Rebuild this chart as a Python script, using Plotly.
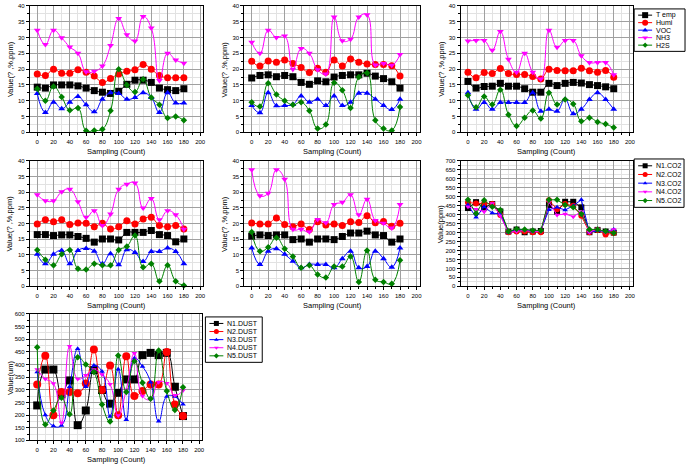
import plotly.graph_objects as go

W, H = 693, 468
samples = list(range(0, 190, 10))

# ---------------- Environmental panels (Temp, Humi, VOC, NH3, H2S) ----------------
env_names = ["T emp", "Humi", "VOC", "NH3", "H2S"]

p1_temp = [14.3, 14.0, 15.0, 15.0, 15.0, 14.7, 14.0, 13.2, 12.7, 12.3, 13.0, 15.2, 16.5, 16.5, 15.8, 14.0, 13.5, 13.2, 13.8]
p1_humi = [18.5, 18.0, 20.0, 18.7, 18.7, 19.8, 19.0, 17.8, 15.8, 17.0, 18.5, 19.3, 19.8, 21.5, 20.0, 18.0, 17.3, 17.3, 17.3]
p1_voc = [12.3, 6.3, 9.5, 7.5, 9.5, 11.3, 8.7, 6.5, 10.5, 12.5, 12.3, 10.5, 11.0, 12.5, 11.0, 6.3, 12.5, 9.3, 9.3]
p1_nh3 = [32.3, 27.8, 32.3, 29.9, 27.0, 25.0, 19.2, 19.3, 21.0, 27.5, 36.0, 30.9, 28.9, 36.7, 33.0, 16.4, 25.0, 22.9, 21.9]
p1_h2s = [13.8, 10.0, 14.5, 11.2, 7.0, 7.7, 0.5, 0.6, 1.0, 6.8, 20.0, 15.0, 12.8, 16.8, 11.0, 8.7, 4.5, 5.0, 3.8]

p2_temp = [17.2, 18.0, 18.2, 17.6, 18.0, 17.6, 15.8, 15.2, 16.3, 16.0, 17.5, 18.0, 18.2, 18.2, 18.7, 17.8, 17.0, 16.0, 14.0]
p2_humi = [22.5, 21.0, 22.6, 22.2, 22.9, 21.8, 20.5, 18.9, 20.3, 19.0, 22.9, 21.0, 23.2, 22.2, 21.6, 21.5, 21.5, 21.1, 17.8]
p2_voc = [8.5, 6.2, 12.5, 8.4, 8.5, 8.8, 11.5, 9.5, 10.5, 8.5, 11.5, 8.5, 9.5, 12.4, 12.4, 10.5, 8.5, 7.2, 10.5]
p2_nh3 = [28.5, 25.0, 32.3, 30.0, 30.5, 20.0, 26.5, 25.0, 19.8, 18.5, 36.5, 29.0, 29.5, 36.5, 37.2, 21.3, 21.8, 21.2, 24.6]
p2_h2s = [9.5, 8.2, 15.5, 12.0, 10.0, 8.7, 9.5, 6.8, 1.2, 2.5, 15.7, 13.3, 7.7, 17.5, 18.8, 3.8, 1.2, 0.6, 8.0]

p3_temp = [16.1, 14.0, 14.5, 14.6, 15.5, 14.6, 14.6, 13.8, 12.7, 12.7, 15.5, 14.8, 15.5, 15.8, 15.6, 15.1, 14.8, 14.4, 13.8]
p3_humi = [19.0, 17.3, 18.9, 18.6, 20.2, 18.6, 18.3, 18.3, 17.7, 16.9, 20.0, 19.6, 19.5, 19.5, 20.3, 19.5, 19.0, 19.6, 17.4]
p3_voc = [12.5, 7.3, 9.4, 7.3, 9.4, 9.4, 9.4, 9.4, 12.5, 6.7, 7.3, 6.7, 10.4, 5.9, 7.3, 10.4, 12.5, 10.4, 7.3]
p3_nh3 = [28.9, 29.1, 29.1, 26.0, 31.9, 23.1, 19.0, 25.0, 19.0, 16.9, 32.3, 26.9, 29.1, 29.1, 24.2, 22.1, 22.1, 22.1, 18.2]
p3_h2s = [11.7, 7.9, 11.3, 8.8, 13.5, 5.6, 2.0, 4.6, 6.9, 4.4, 12.5, 8.8, 10.4, 9.0, 3.5, 4.6, 3.3, 2.6, 1.5]

p4_temp = [16.5, 16.5, 16.2, 16.4, 16.4, 15.9, 15.3, 14.1, 15.1, 15.1, 14.8, 17.2, 17.2, 17.2, 17.8, 16.5, 16.2, 14.2, 15.1]
p4_humi = [19.9, 21.2, 20.6, 21.2, 19.7, 20.2, 20.1, 19.0, 20.1, 18.3, 19.0, 20.9, 19.9, 21.5, 22.0, 19.4, 19.0, 19.4, 18.3]
p4_voc = [10.2, 7.2, 10.2, 11.4, 7.2, 11.4, 12.1, 11.2, 7.2, 10.4, 6.9, 11.7, 10.8, 7.9, 11.1, 11.1, 12.2, 11.1, 7.2]
p4_nh3 = [29.2, 27.3, 27.3, 30.2, 31.0, 27.0, 22.0, 24.1, 19.4, 23.1, 31.0, 32.6, 33.0, 25.0, 28.0, 21.2, 24.1, 22.8, 18.2]
p4_h2s = [11.6, 8.5, 6.7, 10.2, 11.6, 5.6, 5.4, 7.2, 6.7, 6.7, 11.6, 12.7, 16.2, 6.1, 7.2, 1.6, 6.7, 1.6, 0.3]

p5_temp = [16.0, 16.4, 16.2, 16.4, 16.4, 14.9, 15.1, 14.1, 15.1, 15.1, 14.9, 15.9, 17.0, 17.0, 17.6, 16.4, 16.2, 14.1, 15.1]
p5_humi = [20.2, 19.9, 19.9, 21.8, 19.7, 19.0, 19.9, 18.1, 20.6, 19.6, 19.9, 19.4, 20.6, 20.4, 22.5, 20.3, 20.7, 19.2, 20.1]
p5_voc = [12.2, 7.0, 11.2, 12.0, 10.2, 8.0, 5.9, 7.0, 7.0, 7.0, 5.9, 8.8, 11.2, 5.9, 6.3, 11.2, 8.8, 6.1, 12.2]
p5_nh3 = [37.2, 28.9, 29.7, 37.2, 34.2, 18.2, 18.2, 17.4, 21.3, 20.3, 26.1, 26.8, 29.2, 22.8, 27.8, 21.0, 20.1, 18.6, 26.1]
p5_h2s = [17.3, 11.2, 12.5, 15.5, 12.0, 9.5, 5.9, 6.7, 3.8, 2.8, 6.3, 6.3, 9.5, 1.4, 11.4, 2.1, 1.4, 0.8, 8.3]

# ---------------- CO2 panel ----------------
co2_names = ["N1.CO2", "N2.CO2", "N3.CO2", "N4.CO2", "N5.CO2"]
n1_co2 = [437, 470, 440, 459, 418, 306, 317, 302, 306, 309, 454, 417, 472, 472, 441, 302, 315, 306, 300]
n2_co2 = [468, 463, 463, 459, 398, 302, 306, 306, 302, 302, 480, 431, 459, 450, 394, 302, 315, 289, 298]
n3_co2 = [454, 385, 444, 409, 404, 302, 317, 317, 307, 311, 428, 441, 426, 450, 483, 302, 311, 306, 317]
n4_co2 = [444, 431, 417, 463, 394, 302, 306, 311, 306, 306, 472, 398, 404, 389, 417, 302, 320, 302, 317]
n5_co2 = [483, 407, 481, 444, 426, 306, 320, 317, 311, 311, 483, 483, 454, 441, 404, 317, 317, 307, 298]

# ---------------- DUST panel ----------------
dust_names = ["N1.DUST", "N2.DUST", "N3.DUST", "N4.DUST", "N5.DUST"]
n1_dust = [238, 380, 380, 282, 337, 160, 218, 378, 299, 245, 288, 341, 341, 437, 446, 437, 446, 312, 196]
n2_dust = [321, 435, 199, 291, 291, 286, 325, 459, 299, 396, 199, 433, 275, 295, 321, 321, 449, 242, 196]
n3_dust = [370, 200, 157, 159, 312, 462, 312, 396, 372, 194, 381, 181, 425, 392, 330, 175, 273, 273, 243]
n4_dust = [380, 343, 325, 170, 472, 343, 357, 380, 360, 322, 198, 300, 445, 275, 262, 330, 326, 278, 297]
n5_dust = [468, 163, 218, 268, 203, 429, 400, 370, 242, 174, 436, 291, 413, 328, 264, 455, 295, 220, 310]

colors = ["#000000", "#ff0000", "#0000ff", "#ff00ff", "#008000"]
symbols = ["square", "circle", "triangle-up", "triangle-down", "diamond"]
env_sizes = [7, 7, 6, 6, 5]
co2_sizes = [6, 6, 5, 5, 5]
dust_sizes = [8, 8, 5, 5, 5]

FONT = "Liberation Sans, Arial, sans-serif"

# panel definitions: pixel frame (left, right, top, bottom)
panels = [
    dict(frame=(30, 204, 3, 131), yr=(0, 40), dt=5, data=[p1_temp, p1_humi, p1_voc, p1_nh3, p1_h2s], kind="env", ytitle="Value(? ,%,ppm)"),
    dict(frame=(245, 421, 3, 131), yr=(0, 40), dt=5, data=[p2_temp, p2_humi, p2_voc, p2_nh3, p2_h2s], kind="env", ytitle="Value(? ,%,ppm)"),
    dict(frame=(462, 635, 3, 131), yr=(0, 40), dt=5, data=[p3_temp, p3_humi, p3_voc, p3_nh3, p3_h2s], kind="env", ytitle="Value(? ,%,ppm)"),
    dict(frame=(30, 204, 160, 287), yr=(0, 40), dt=5, data=[p4_temp, p4_humi, p4_voc, p4_nh3, p4_h2s], kind="env", ytitle="Value(? ,%,ppm)"),
    dict(frame=(245, 421, 160, 287), yr=(0, 40), dt=5, data=[p5_temp, p5_humi, p5_voc, p5_nh3, p5_h2s], kind="env", ytitle="Value(? ,%,ppm)"),
    dict(frame=(462, 635, 160, 287), yr=(0, 700), dt=50, data=[n1_co2, n2_co2, n3_co2, n4_co2, n5_co2], kind="co2", ytitle="Value(ppm)"),
    dict(frame=(30, 203, 315, 443), yr=(100, 600), dt=50, data=[n1_dust, n2_dust, n3_dust, n4_dust, n5_dust], kind="dust", ytitle="Value(um)"),
]

# legend boxes (left, right, top, bottom)
legends = [
    dict(box=(636, 687, 6, 49), names=env_names, sizes=[6, 6, 5, 5, 4]),
    dict(box=(636, 686, 158, 207), names=co2_names, sizes=[5, 5, 4, 4, 4]),
    dict(box=(206, 263, 318, 364), names=dust_names, sizes=[5, 5, 4, 4, 4]),
]

fig = go.Figure()
annotations = []
shapes = []
layout = {}


def ax_names(i):
    xa = "x" if i == 1 else f"x{i}"
    ya = "y" if i == 1 else f"y{i}"
    xk = "xaxis" if i == 1 else f"xaxis{i}"
    yk = "yaxis" if i == 1 else f"yaxis{i}"
    return xa, ya, xk, yk


for i, p in enumerate(panels, start=1):
    xa, ya, xk, yk = ax_names(i)
    l, r, t, b = p["frame"]
    if p["kind"] == "env":
        sizes, shape = env_sizes, "spline"
    elif p["kind"] == "co2":
        sizes, shape = co2_sizes, "linear"
    else:
        sizes, shape = dust_sizes, "spline"
    for k, series in enumerate(p["data"]):
        fig.add_trace(go.Scatter(
            x=samples, y=series, mode="lines+markers",
            line=dict(color=colors[k], width=1, shape=shape, smoothing=1.3),
            marker=dict(symbol=symbols[k], size=sizes[k], color=colors[k]),
            xaxis=xa, yaxis=ya, showlegend=False, cliponaxis=False,
        ))
    layout[xk] = dict(
        domain=[l / W, r / W], anchor=ya, range=[-9, 204],
        tickmode="array", tickvals=list(range(0, 201, 20)),
        showgrid=True, gridcolor="#a0a0a0", gridwidth=1, zeroline=False,
        showline=True, linecolor="#000000", linewidth=1, mirror=True,
        ticks="outside", ticklen=3, tickcolor="#000000",
        tickfont=dict(family=FONT, size=6, color="#000000"),
        minor=dict(dtick=10, tick0=0, ticklen=2, ticks="outside", tickcolor="#000000",
                   showgrid=True, gridcolor="#e2e2e2", gridwidth=1),
    )
    y0, y1 = p["yr"]
    layout[yk] = dict(
        domain=[1 - b / H, 1 - t / H], anchor=xa, range=[y0, y1],
        tickmode="linear", tick0=y0, dtick=p["dt"],
        showgrid=True, gridcolor="#a0a0a0", gridwidth=1, zeroline=False,
        showline=True, linecolor="#000000", linewidth=1, mirror=True,
        ticks="outside", ticklen=3, tickcolor="#000000",
        tickfont=dict(family=FONT, size=6, color="#000000"),
        minor=dict(dtick=p["dt"] / 2, ticklen=2, ticks="outside", tickcolor="#000000",
                   showgrid=True, gridcolor="#e2e2e2", gridwidth=1),
    )
    annotations.append(dict(
        text="Sampling (Count)", x=(l + r) / 2 / W, y=1 - (b + 19) / H,
        xref="paper", yref="paper", xanchor="center", yanchor="middle",
        showarrow=False, font=dict(family=FONT, size=7.5, color="#000000"),
    ))
    annotations.append(dict(
        text=p["ytitle"], x=(l - 20) / W, y=1 - (t + b) / 2 / H,
        xref="paper", yref="paper", xanchor="center", yanchor="middle",
        textangle=-90, showarrow=False, font=dict(family=FONT, size=7.5, color="#000000"),
    ))

# compact legends drawn on small helper axes
for j, lg in enumerate(legends, start=len(panels) + 1):
    xa, ya, xk, yk = ax_names(j)
    l, r, t, b = lg["box"]
    wpx, hpx = r - l, b - t
    n = len(lg["names"])
    pad = 2.5
    step = (hpx - 2 * pad) / n
    layout[xk] = dict(domain=[l / W, r / W], anchor=ya, range=[0, wpx], visible=False, fixedrange=True)
    layout[yk] = dict(domain=[1 - b / H, 1 - t / H], anchor=xa, range=[hpx, 0], visible=False, fixedrange=True)
    shapes.append(dict(type="rect", xref=f"{xa} domain", yref=f"{ya} domain", x0=0, x1=1, y0=0, y1=1,
                       line=dict(color="#000000", width=1), fillcolor="#ffffff", layer="below"))
    for k, name in enumerate(lg["names"]):
        yk_pos = pad + (k + 0.5) * step
        fig.add_trace(go.Scatter(
            x=[4, 18], y=[yk_pos, yk_pos], mode="lines",
            line=dict(color=colors[k], width=1), xaxis=xa, yaxis=ya,
            showlegend=False, hoverinfo="skip", cliponaxis=False,
        ))
        fig.add_trace(go.Scatter(
            x=[11], y=[yk_pos], mode="markers",
            marker=dict(symbol=symbols[k], size=lg["sizes"][k], color=colors[k]),
            xaxis=xa, yaxis=ya, showlegend=False, hoverinfo="skip", cliponaxis=False,
        ))
        annotations.append(dict(
            text=name, x=20, y=yk_pos, xref=xa, yref=ya, xanchor="left", yanchor="middle",
            showarrow=False, font=dict(family=FONT, size=7, color="#000000"),
        ))

fig.update_layout(
    width=W, height=H, margin=dict(l=0, r=0, t=0, b=0),
    paper_bgcolor="#ffffff", plot_bgcolor="#ffffff", showlegend=False,
    annotations=annotations, shapes=shapes, **layout,
)

fig.write_html("out.html")
